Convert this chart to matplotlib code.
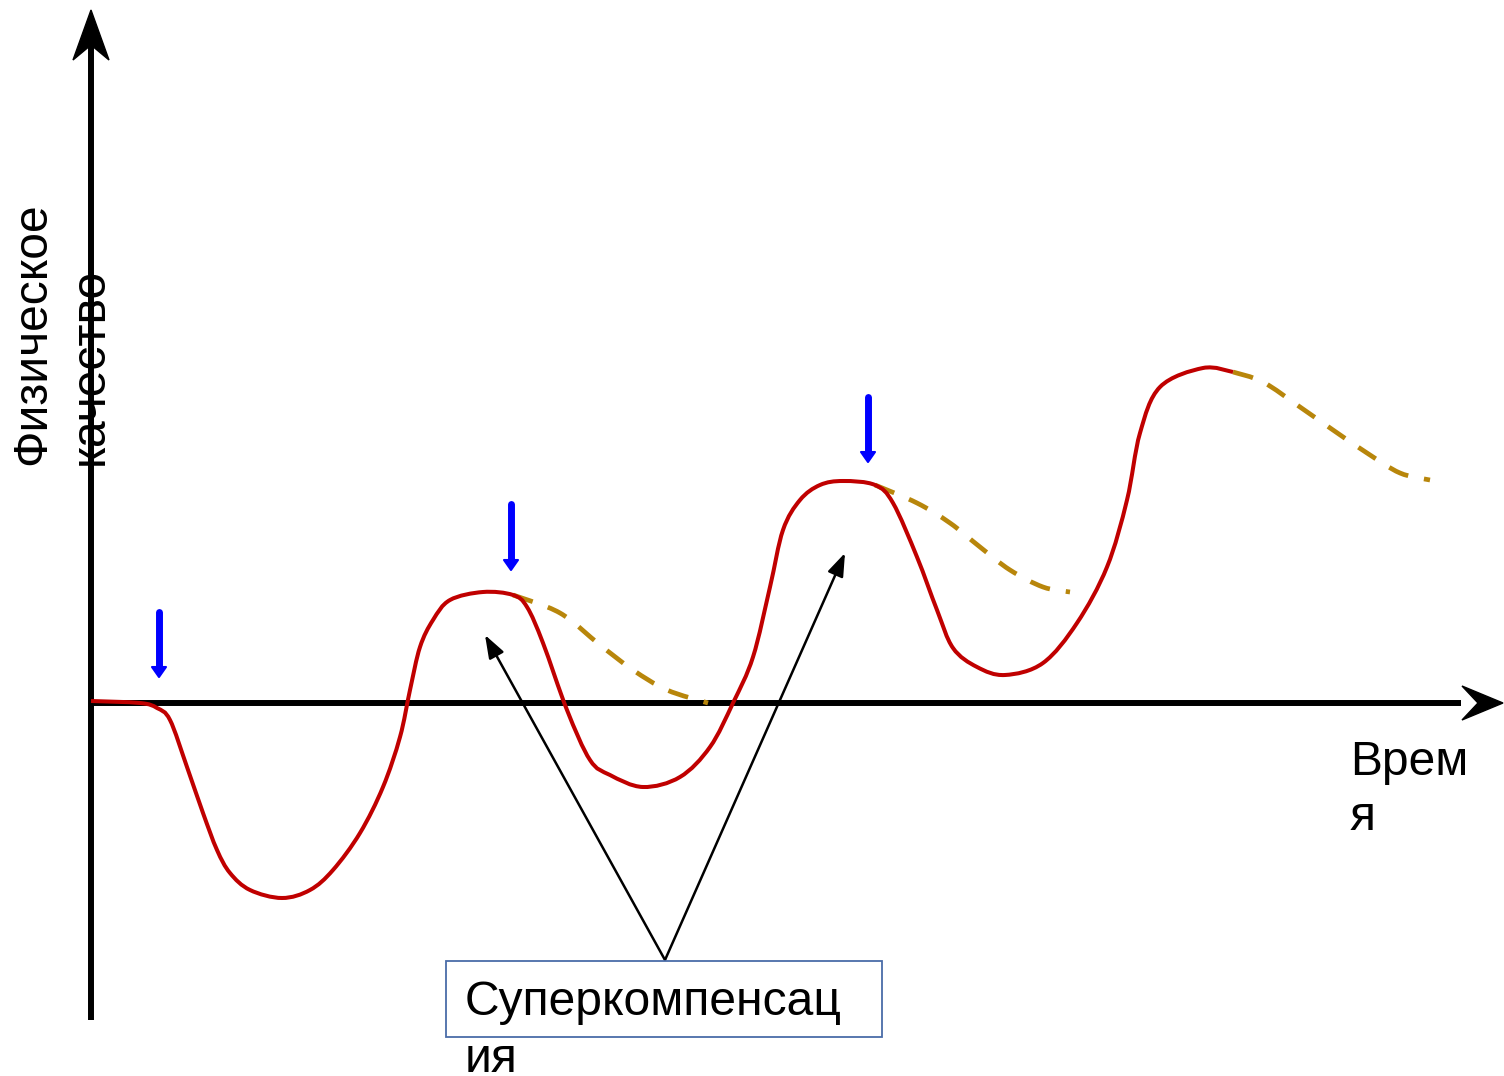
import numpy as np
import matplotlib
matplotlib.use("Agg")
import matplotlib.pyplot as plt
from matplotlib.path import Path
from matplotlib.patches import PathPatch, Polygon, Rectangle, FancyArrowPatch

plt.rcParams['font.family'] = ['Liberation Sans', 'DejaVu Sans']

# ---- data (time, quality) ----
curve_t = [0.00, 0.49, 0.66, 0.79, 0.96, 1.12, 1.26, 1.39, 1.59, 1.91, 2.19, 2.42, 2.69, 2.92,
           3.09, 3.19, 3.29, 3.42, 3.59, 3.92, 4.22, 4.36, 4.52, 4.76, 4.99, 5.19, 5.52, 5.89,
           6.19, 6.42, 6.62, 6.79, 6.92, 7.09, 7.29, 7.52, 7.84, 8.02, 8.26, 8.46, 8.62, 8.86,
           9.14, 9.52, 9.86, 10.16, 10.36, 10.49, 10.69, 11.12, 11.42]
curve_q = [0.02, 0.00, -0.05, -0.17, -0.64, -1.10, -1.47, -1.70, -1.87, -1.95, -1.87, -1.67, -1.30, -0.84,
           -0.34, 0.13, 0.56, 0.83, 1.03, 1.11, 1.08, 0.96, 0.60, -0.07, -0.57, -0.72, -0.84, -0.74,
           -0.44, 0.00, 0.46, 1.16, 1.73, 2.03, 2.18, 2.22, 2.18, 2.00, 1.46, 0.93, 0.55, 0.36,
           0.28, 0.40, 0.80, 1.36, 2.03, 2.70, 3.16, 3.35, 3.31]

decay1_t = [4.22, 4.69, 5.09, 5.42, 5.76, 6.17]
decay1_q = [1.08, 0.90, 0.58, 0.33, 0.13, 0.00]
decay2_t = [7.84, 8.26, 8.59, 8.89, 9.19, 9.52, 9.79]
decay2_q = [2.18, 2.00, 1.80, 1.56, 1.33, 1.16, 1.11]
decay3_t = [11.42, 11.72, 12.09, 12.42, 12.76, 13.09, 13.39]
decay3_q = [3.31, 3.21, 2.96, 2.73, 2.50, 2.30, 2.23]

load_t = [0.68, 4.20, 7.77]
load_top = [0.91, 1.99, 3.06]
load_tip = [0.26, 1.33, 2.41]

label_x = "Врем\nя"
label_y1 = "Физическое"
label_y2 = "качество"
box_label = "Суперкомпенсац\nия"

RED = '#C00000'
GOLD = '#B8860B'
FS = 34.6


def smooth_path(xs, ys):
    """Catmull-Rom anchors rendered as cubic Bezier segments."""
    p = np.column_stack([xs, ys])
    verts = [p[0]]
    codes = [Path.MOVETO]
    n = len(p)
    for i in range(n - 1):
        p0 = p[i - 1] if i > 0 else p[i]
        p1 = p[i]
        p2 = p[i + 1]
        p3 = p[i + 2] if i + 2 < n else p[i + 1]
        c1 = p1 + (p2 - p0) / 6.0
        c2 = p2 - (p3 - p1) / 6.0
        verts += [c1, c2, p2]
        codes += [Path.CURVE4] * 3
    return Path(verts, codes)


fig = plt.figure(figsize=(15.04, 10.76), dpi=100)
ax = fig.add_axes([0, 0, 1, 1])
ax.set_xlim(-0.91, 14.13)
ax.set_ylim(-3.73, 7.03)
ax.axis('off')

# axes lines
ax.plot([0, 0], [-3.17, 6.6], color='black', lw=4.3, solid_capstyle='butt', zorder=2)
ax.plot([0, 13.7], [0, 0], color='black', lw=4.3, solid_capstyle='butt', zorder=2)
ax.add_patch(Polygon([[0, 6.93], [-0.18, 6.43], [0, 6.58], [0.18, 6.43]], closed=True,
                     color='black', zorder=3))
ax.add_patch(Polygon([[14.12, 0], [13.71, 0.17], [13.87, 0], [13.71, -0.17]], closed=True,
                     color='black', zorder=3))

# main curve
ax.add_patch(PathPatch(smooth_path(curve_t, curve_q), fill=False, edgecolor=RED, lw=2.9,
                       capstyle='butt', joinstyle='round', zorder=4))

# decay dashed curves
for tt, qq in [(decay1_t, decay1_q), (decay2_t, decay2_q), (decay3_t, decay3_q)]:
    ax.add_patch(PathPatch(smooth_path(tt, qq), fill=False, edgecolor=GOLD, lw=3.4,
                           linestyle=(0, (4.4, 3.4)), capstyle='butt', zorder=3))

# load arrows (blue)
for t, top, tip in zip(load_t, load_top, load_tip):
    ax.plot([t, t], [top, tip + 0.07], color='#0000FF', lw=5.0, solid_capstyle='round', zorder=5)
    ax.add_patch(Polygon([[t - 0.07, tip + 0.1], [t + 0.07, tip + 0.1], [t, tip]], closed=True,
                         color='#0000FF', joinstyle='round', lw=1.5, zorder=5))

# supercompensation annotation
src = (5.74, -2.57)
for dst in [(3.94, 0.68), (7.54, 1.50)]:
    ax.add_patch(FancyArrowPatch(src, dst, arrowstyle='-|>,head_length=14,head_width=5',
                                 mutation_scale=1, color='black', lw=1.8, shrinkA=0, shrinkB=0,
                                 zorder=6))

ax.add_patch(Rectangle((3.55, -3.34), 4.36, 0.76, fill=True, facecolor='white',
                       edgecolor='#4A6CA8', lw=1.3, zorder=7))
lines = box_label.split("\n")
ax.text(3.74, -3.12, lines[0], fontsize=FS, va='baseline', ha='left', zorder=8)
ax.text(3.74, -3.69, lines[1], fontsize=FS, va='baseline', ha='left', zorder=8)

xl = label_x.split("\n")
ax.text(12.59, -0.72, xl[0], fontsize=FS, va='baseline', ha='left')
ax.text(12.59, -1.27, xl[1], fontsize=FS, va='baseline', ha='left')

ax.text(-0.46, 2.38, label_y1, fontsize=FS, rotation=90, rotation_mode='anchor',
        ha='left', va='baseline')
ax.text(0.12, 2.38, label_y2, fontsize=FS, rotation=90, rotation_mode='anchor',
        ha='left', va='baseline', zorder=8)

fig.savefig('out.png', dpi=100)
